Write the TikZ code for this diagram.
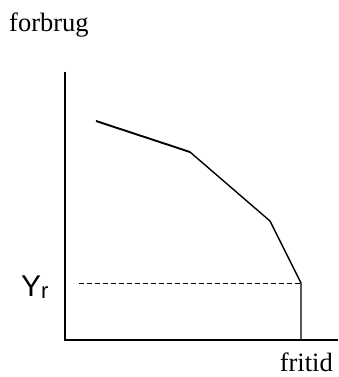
\documentclass[tikz,border=0pt]{standalone}
\usepackage{fontspec}
\setmainfont{Liberation Serif}
\newfontfamily\handfont{Liberation Sans}
\begin{document}
\begin{tikzpicture}[x=1pt,y=-1pt,
  axis/.style={line width=1.1pt},
  curve/.style={line width=1.4pt, line join=round},
  guide/.style={dashed, line width=0.9pt, dash pattern=on 5pt off 3pt},
  lbl/.style={inner sep=0pt, font=\fontsize{26.5}{30}\selectfont}]
\useasboundingbox (0,0) rectangle (338,377);
\coordinate (O) at (65,340);
\coordinate (ytop) at (65,72);
\coordinate (xend) at (338,340);
\coordinate (p1) at (96,121);
\coordinate (p2) at (190,152);
\coordinate (p3) at (270,221);
\coordinate (p4) at (301,283);
\coordinate (p5) at (301,340);
\coordinate (d0) at (79,283);
\draw[axis] (ytop) -- (O) -- (xend);
\draw[line width=1.9pt] (p1) -- (p2);
\draw[curve] (p2) -- (p3) -- (p4) -- (p5);
\draw[guide] (d0) -- (p4);
\node[lbl, anchor=base west] (forbrug) at (9,32) {forbrug};
\node[lbl, anchor=base east] (fritid) at (333,371) {fritid};
\node[inner sep=0pt, anchor=base west, font=\handfont\fontsize{30}{34}\selectfont] (yr) at (21,296) {Y\raisebox{-2pt}{\fontsize{22}{24}\selectfont r}};
\end{tikzpicture}
\end{document}
